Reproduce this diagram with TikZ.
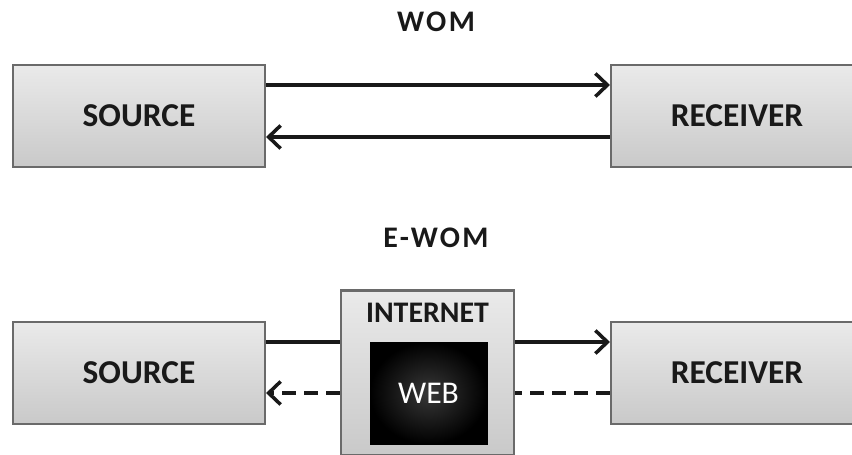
\documentclass[tikz,border=0pt]{standalone}
\usepackage{fontspec}
\setmainfont{Carlito}
\newfontfamily\titlefont[LetterSpace=8]{Carlito}
\usetikzlibrary{positioning}
\usetikzlibrary{arrows.meta}
\usepackage{xcolor}

\definecolor{boxedge}{HTML}{6A6A6A}
\definecolor{boxtop}{HTML}{EAEAEA}
\definecolor{boxbottom}{HTML}{C9C9C9}

\begin{document}
\begin{tikzpicture}[
    party/.style={draw=boxedge, line width=1.2pt, rectangle, top color=boxtop, bottom color=boxbottom,
                  minimum width=5.04cm, minimum height=2.04cm, text=black!90, font=\fontsize{19}{21}\selectfont\bfseries},
    heading/.style={text=black!90, font=\titlefont\fontsize{17}{20}\selectfont\bfseries},
    link/.style={line width=2pt, black!90},
    tip/.style={-{Straight Barb[length=2.4mm,width=4.6mm,line width=2pt]}},
    dashy/.style={dash pattern=on 2.8mm off 1.6mm}
  ]
            \useasboundingbox (0,0) rectangle (17.04,9.08);
            % WOM: direct exchange
            \node[heading] (womtitle) at (8.72,8.64) {WOM};
            \node[party] (source1) at (2.78,6.76) {SOURCE};
            \node[party] (receiver1) at (14.74,6.76) {RECEIVER};

            \draw[link,tip] ([yshift=0.62cm]source1.east) -- ([yshift=0.62cm]receiver1.west);
            \draw[link,tip] ([yshift=-0.42cm]receiver1.west) -- ([yshift=-0.42cm]source1.east);

            % E-WOM: exchange through the internet
            \node[heading] (ewomtitle) at (8.72,4.32) {E-WOM};
            \node[party] (source2) at (2.78,1.62) {SOURCE};
            \node[party] (receiver2) at (14.74,1.62) {RECEIVER};
            \node[draw=boxedge, line width=1.2pt, rectangle, top color=boxtop, bottom color=boxbottom,
                  minimum width=3.46cm, minimum height=3.3cm] (internet) at (8.55,1.62) {};
            \node[text=black!90, font=\fontsize{17}{20}\selectfont\bfseries] (internetlabel) at (8.55,2.82) {INTERNET};
            \node[draw=black, rectangle, inner color=black!78, outer color=black, text=white,
                  minimum width=2.34cm, minimum height=2.04cm, font=\fontsize{18}{20}\selectfont] (web) at (8.57,1.22) {WEB};

            \draw[link] ([yshift=0.62cm]source2.east) -- ([yshift=0.62cm]source2.east -| internet.west);
            \draw[link,tip] ([yshift=0.62cm]receiver2.west -| internet.east) -- ([yshift=0.62cm]receiver2.west);
            \draw[link,dashy] ([yshift=-0.40cm]receiver2.west) -- ([yshift=-0.40cm]receiver2.west -| internet.east);
            \draw[link,tip,dashy] ([yshift=-0.40cm]source2.east -| internet.west) -- ([yshift=-0.40cm]source2.east);
        \end{tikzpicture}
\end{document}
